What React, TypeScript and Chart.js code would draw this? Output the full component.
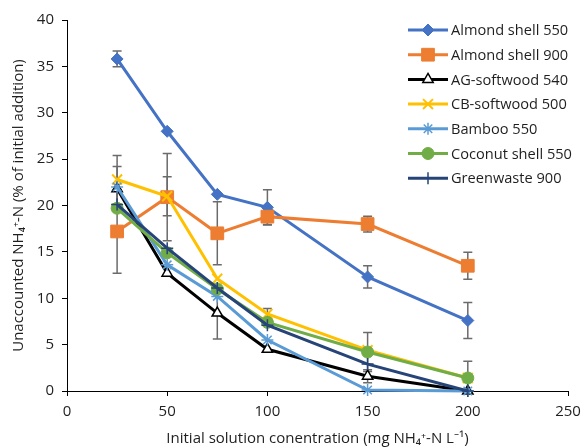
import React, { useEffect, useRef } from 'react';
import { Chart, registerables } from 'chart.js';
import { drawPoint } from 'chart.js/helpers';

Chart.register(...registerables);

const concentrations = [25, 50, 75, 100, 150, 200];

const seriesNames = [
  'Almond shell 550',
  'Almond shell 900',
  'AG-softwood 540',
  'CB-softwood 500',
  'Bamboo 550',
  'Coconut shell 550',
  'Greenwaste 900',
];

const almond550 = [35.8, 28.0, 21.2, 19.8, 12.3, 7.6];
const almond900 = [17.2, 20.9, 17.0, 18.8, 18.0, 13.5];
const ag540 = [21.8, 12.7, 8.4, 4.5, 1.6, 0.0];
const cb500 = [22.8, 21.0, 12.1, 8.3, 4.4, 1.4];
const bamboo550 = [22.0, 13.6, 10.2, 5.5, 0.1, 0.0];
const coconut550 = [19.7, 14.9, 11.0, 7.4, 4.2, 1.4];
const greenwaste900 = [20.1, 15.4, 11.1, 7.1, 2.9, 0.0];

const almond550Err = [0.85, null, null, 1.9, 1.2, 1.95];
const almond900Err = [4.5, 4.7, 3.4, 0.85, 0.85, 1.45];
const ag540Err = [2.4, null, 2.8, null, 0.7, null];
const cb500Err = [2.6, 2.1, null, 0.6, null, null];
const bamboo550Err = [null, null, null, null, null, null];
const coconut550Err = [null, null, null, null, 2.1, 1.8];
const greenwaste900Err = [null, null, null, null, null, null];

const xTicks = [0, 50, 100, 150, 200, 250];
const yTicks = [0, 5, 10, 15, 20, 25, 30, 35, 40];

const values = [almond550, almond900, ag540, cb500, bamboo550, coconut550, greenwaste900];
const errors = [almond550Err, almond900Err, ag540Err, cb500Err, bamboo550Err, coconut550Err, greenwaste900Err];

const styles = [
  { color: '#4472C4', fill: '#4472C4', pointStyle: 'rectRot', radius: 6, pbw: 1 },
  { color: '#ED7D31', fill: '#ED7D31', pointStyle: 'rect', radius: 9, pbw: 1 },
  { color: '#000000', fill: '#FFFFFF', pointStyle: 'triangle', radius: 6, pbw: 1.5 },
  { color: '#FFC000', fill: '#FFC000', pointStyle: 'crossRot', radius: 7, pbw: 2 },
  { color: '#5B9BD5', fill: '#5B9BD5', pointStyle: 'star', radius: 6, pbw: 1.5 },
  { color: '#70AD47', fill: '#70AD47', pointStyle: 'circle', radius: 6, pbw: 1 },
  { color: '#264478', fill: '#264478', pointStyle: 'cross', radius: 6, pbw: 1.5 },
];

const FONT = '"Open Sans", "Noto Sans", sans-serif';
const TEXT = '#1f1f1f';

const errorBarPlugin = {
  id: 'errorBars',
  beforeDatasetsDraw(chart: any) {
    const ctx = chart.ctx;
    const yScale = chart.scales.y;
    ctx.save();
    ctx.strokeStyle = '#6b6b6b';
    ctx.lineWidth = 1.5;
    chart.data.datasets.forEach((ds: any, i: number) => {
      const meta = chart.getDatasetMeta(i);
      const errs = errors[i];
      meta.data.forEach((pt: any, j: number) => {
        const e = errs[j];
        if (e == null) return;
        const v = values[i][j];
        const top = yScale.getPixelForValue(v + e);
        const bot = yScale.getPixelForValue(Math.max(0, v - e));
        const x = pt.x;
        ctx.beginPath();
        ctx.moveTo(x, top);
        ctx.lineTo(x, bot);
        ctx.moveTo(x - 4.5, top);
        ctx.lineTo(x + 4.5, top);
        ctx.moveTo(x - 4.5, bot);
        ctx.lineTo(x + 4.5, bot);
        ctx.stroke();
      });
    });
    ctx.restore();
  },
};

const legendPlugin = {
  id: 'customLegend',
  afterDraw(chart: any) {
    const ctx = chart.ctx;
    ctx.save();
    const x1 = 408;
    const x2 = 448;
    const startY = 30;
    const step = 24.7;
    chart.data.datasets.forEach((ds: any, i: number) => {
      const y = startY + i * step;
      const st = styles[i];
      ctx.strokeStyle = st.color;
      ctx.lineWidth = 3;
      ctx.beginPath();
      ctx.moveTo(x1, y);
      ctx.lineTo(x2, y);
      ctx.stroke();
      ctx.fillStyle = st.fill;
      ctx.strokeStyle = st.color;
      ctx.lineWidth = st.pbw;
      drawPoint(ctx, { pointStyle: st.pointStyle, radius: st.radius, rotation: 0, borderWidth: st.pbw }, (x1 + x2) / 2, y);
      ctx.fillStyle = TEXT;
      ctx.font = `14.6px ${FONT}`;
      ctx.textBaseline = 'middle';
      ctx.textAlign = 'left';
      ctx.fillText(ds.label, 451, y + 1);
    });
    ctx.restore();
  },
};

export default function App() {
  const canvasRef = useRef<HTMLCanvasElement | null>(null);

  useEffect(() => {
    if (!canvasRef.current) return;
    const datasets = values.map((vals, i) => ({
      label: seriesNames[i],
      data: vals.map((v, j) => ({ x: concentrations[j], y: v })),
      borderColor: styles[i].color,
      backgroundColor: styles[i].fill,
      pointBackgroundColor: styles[i].fill,
      pointBorderColor: styles[i].color,
      pointBorderWidth: styles[i].pbw,
      pointStyle: styles[i].pointStyle,
      pointRadius: styles[i].radius,
      borderWidth: 3,
      tension: 0,
      fill: false,
      order: values.length - i,
      clip: false,
    }));

    const chart = new Chart(canvasRef.current, {
      type: 'line',
      data: { datasets },
      plugins: [errorBarPlugin, legendPlugin],
      options: {
        animation: false,
        responsive: false,
        maintainAspectRatio: false,
        devicePixelRatio: 1,
        layout: { padding: { top: 20, right: 17, left: 0, bottom: 0 } },
        plugins: {
          legend: { display: false },
          tooltip: { enabled: false },
          title: { display: false },
        },
        scales: {
          x: {
            type: 'linear',
            min: 0,
            max: 250,
            afterBuildTicks: (scale: any) => {
              scale.ticks = xTicks.map((v) => ({ value: v }));
            },
            afterFit: (scale: any) => {
              scale.height = 57;
              scale.paddingRight = 0;
              scale.paddingLeft = 0;
            },
            ticks: {
              font: { family: FONT, size: 15 },
              color: TEXT,
              padding: 7,
              maxRotation: 0,
            },
            grid: {
              drawOnChartArea: false,
              drawTicks: true,
              tickLength: 5,
              color: '#000000',
              lineWidth: 1,
            },
            border: { color: '#000000', width: 1 },
            title: {
              display: true,
              text: 'Initial solution conentration (mg NH₄⁺-N L⁻¹)',
              font: { family: FONT, size: 15 },
              color: TEXT,
              padding: { top: 2, bottom: 0 },
            },
          },
          y: {
            type: 'linear',
            min: 0,
            max: 40,
            afterBuildTicks: (scale: any) => {
              scale.ticks = yTicks.map((v) => ({ value: v }));
            },
            afterFit: (scale: any) => {
              scale.width = 67;
            },
            ticks: {
              font: { family: FONT, size: 15 },
              color: TEXT,
              padding: 8,
            },
            grid: {
              drawOnChartArea: false,
              drawTicks: true,
              tickLength: 5,
              color: '#000000',
              lineWidth: 1,
            },
            border: { color: '#000000', width: 1 },
            title: {
              display: true,
              text: 'Unaccounted NH₄⁺-N (% of initial addition)',
              font: { family: FONT, size: 15 },
              color: TEXT,
              padding: { top: 10, bottom: 0 },
            },
          },
        },
      } as any,
    });
    return () => chart.destroy();
  }, []);

  return (
    <div style={{ position: 'fixed', left: 0, top: 0, width: 585, height: 448, background: '#fff' }}>
      <canvas ref={canvasRef} width={585} height={448} style={{ width: 585, height: 448 }} />
    </div>
  );
}
